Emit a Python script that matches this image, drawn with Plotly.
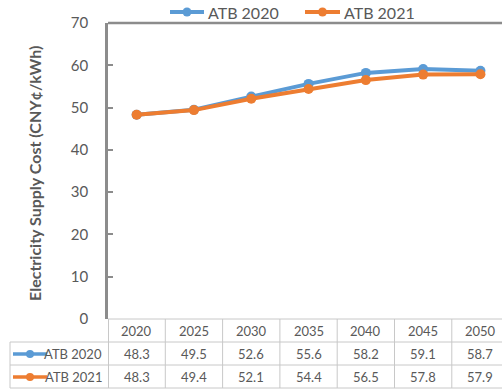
import plotly.graph_objects as go

# Electricity supply cost projections (CNY¢/kWh)
years = ["2020", "2025", "2030", "2035", "2040", "2045", "2050"]
atb_2020 = [48.3, 49.5, 52.6, 55.6, 58.2, 59.1, 58.7]
atb_2021 = [48.3, 49.4, 52.1, 54.4, 56.5, 57.8, 57.9]
series_names = ["ATB 2020", "ATB 2021"]
series_values = [atb_2020, atb_2021]
series_colors = ["#5B9BD5", "#ED7D31"]

W, H = 502, 390
ML, MR, MT, MB = 108, 0, 23, 71
PW, PH = W - ML - MR, H - MT - MB

FONT = "Lato"
TXT = "#595959"
GRID = "#C8C8C8"
AXIS = "#8C8C8C"

idx = list(range(len(years)))
x_lo = -0.5
x_hi = x_lo + PW / 57.3  # category width ~57 px, last column runs past the edge


def px_x(px):
    return (px - ML) / PW


def px_y(py):
    return (H - MB - py) / PH


def cat_paper(v):
    return (v - x_lo) / (x_hi - x_lo)


fig = go.Figure()
for name, vals, col in zip(series_names, series_values, series_colors):
    fig.add_trace(go.Scatter(
        x=idx, y=vals, name=name, mode="lines+markers",
        line=dict(color=col, width=4),
        marker=dict(color=col, size=10),
        cliponaxis=False, showlegend=False,
    ))

shapes = []
annotations = []


def hline(x0, x1, y, color, width):
    shapes.append(dict(type="line", xref="paper", yref="paper", layer="above",
                       x0=x0, x1=x1, y0=y, y1=y, line=dict(color=color, width=width)))


def vline(x, y0, y1, color, width):
    shapes.append(dict(type="line", xref="paper", yref="paper", layer="above",
                       x0=x, x1=x, y0=y0, y1=y1, line=dict(color=color, width=width)))


def legend_key(x0, x1, yc, col, lw, r):
    hline(px_x(x0), px_x(x1), px_y(yc), col, lw)
    xm = (x0 + x1) / 2
    shapes.append(dict(type="circle", xref="paper", yref="paper", layer="above",
                       x0=px_x(xm - r), x1=px_x(xm + r), y0=px_y(yc - r), y1=px_y(yc + r),
                       fillcolor=col, line=dict(color=col, width=0)))


# top border of the plot area
hline(0, 1, 1, AXIS, 2.5)

# legend above the plot
for name, col, (lx0, lx1) in zip(series_names, series_colors, [(170, 204), (305, 340)]):
    legend_key(lx0, lx1, 12, col, 4, 4.5)
    annotations.append(dict(x=px_x(lx1 + 2), y=px_y(12), xref="paper", yref="paper",
                            text=name, xanchor="left", yanchor="middle", showarrow=False,
                            font=dict(family=FONT, size=16, color=TXT)))

# data table grid
row_tops = [H - MB, 342, 365, 388]
for k, py in enumerate(row_tops):
    hline(0 if k == 0 else px_x(10), 1, px_y(py), GRID, 1)
vline(px_x(10), px_y(342), px_y(388), GRID, 1)
for i in idx:
    vline(cat_paper(i - 0.5) + (0.5 / PW if i == 0 else 0), px_y(H - MB), px_y(388), GRID, 1)

cell_font = dict(family=FONT, size=13, color=TXT)

# header row (years)
for i, yr in zip(idx, years):
    annotations.append(dict(x=i, y=px_y(331), xref="x", yref="paper", text=yr,
                            xanchor="center", yanchor="middle",
                            showarrow=False, font=cell_font))

# value rows with legend keys
row_centers = [354, 377]
for name, vals, col, yc in zip(series_names, series_values, series_colors, row_centers):
    legend_key(13, 47, yc, col, 3.5, 4)
    annotations.append(dict(x=px_x(104), y=px_y(yc), xref="paper", yref="paper", text=name,
                            xanchor="right", yanchor="middle", showarrow=False,
                            font=cell_font))
    for i, v in zip(idx, vals):
        annotations.append(dict(x=i, y=px_y(yc), xref="x", yref="paper", text=f"{v:.1f}",
                                xanchor="center", yanchor="middle",
                                showarrow=False, font=cell_font))

# y-axis title
annotations.append(dict(x=px_x(34), y=px_y(174), xref="paper", yref="paper",
                        text="<b>Electricity Supply Cost (CNY¢/kWh)</b>", textangle=-90,
                        xanchor="center", yanchor="middle",
                        showarrow=False, font=dict(family=FONT, size=16, color=TXT)))

fig.update_layout(
    width=W, height=H,
    margin=dict(l=ML, r=MR, t=MT, b=MB, pad=0),
    paper_bgcolor="white", plot_bgcolor="white",
    font=dict(family=FONT, color=TXT),
    showlegend=False,
    xaxis=dict(range=[x_lo, x_hi], showticklabels=False, showgrid=False, zeroline=False,
               showline=False, ticks=""),
    yaxis=dict(range=[0, 70], dtick=10, showgrid=False, zeroline=False,
               showline=True, linecolor=AXIS, linewidth=2.5,
               ticks="inside", ticklen=5, tickcolor=AXIS, tickwidth=1.5,
               ticklabelstandoff=14,
               tickfont=dict(family=FONT, size=15, color=TXT)),
    shapes=shapes, annotations=annotations,
)

fig.write_html("out.html")
